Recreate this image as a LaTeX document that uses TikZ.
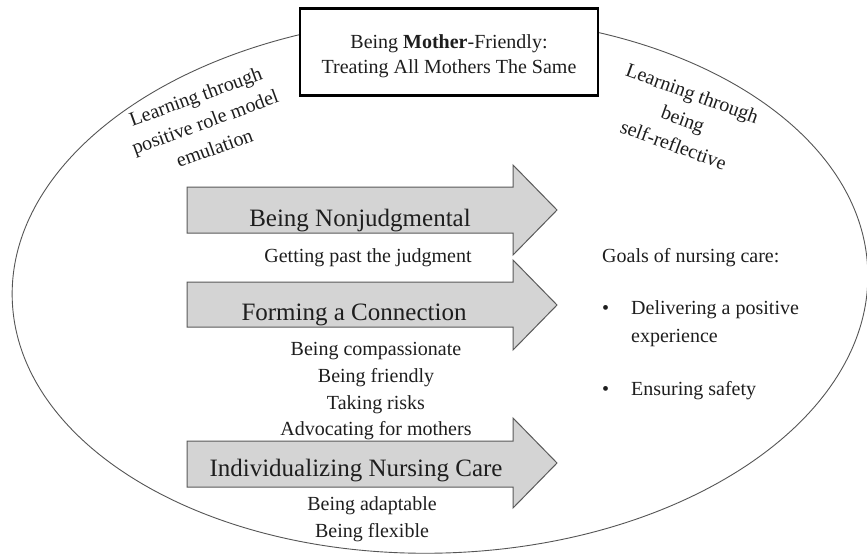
\documentclass[tikz,border=0pt]{standalone}
\usepackage{fontspec}
\setmainfont{Liberation Serif}
\usetikzlibrary{shapes.geometric}
\definecolor{txt}{HTML}{1E1E1E}
\definecolor{arrowfill}{HTML}{D4D4D4}
\definecolor{arrowline}{HTML}{5A5A5A}
\definecolor{ovalline}{HTML}{555555}
\tikzset{
  oval/.style={draw=ovalline, line width=0.9pt, ellipse, minimum width=856pt, minimum height=536pt, inner sep=0pt},
  titlebox/.style={draw=black, line width=2.4pt, fill=white, minimum width=298pt, minimum height=87pt, inner sep=0pt},
  titletext/.style={align=center, inner sep=0pt, text=txt, font=\fontsize{20}{25}\selectfont},
  bigarrow/.style={draw=arrowline, line width=1pt, fill=arrowfill, line join=miter},
  arrowlabel/.style={anchor=base, text=txt, font=\fontsize{25}{30}\selectfont, inner sep=0pt},
  subtext/.style={anchor=base, text=txt, font=\fontsize{20}{24}\selectfont, inner sep=0pt},
  sidetext/.style={align=center, text=txt, font=\fontsize{20}{27.5}\selectfont, inner sep=0pt},
  goaltext/.style={anchor=base west, text=txt, font=\fontsize{20}{24}\selectfont, inner sep=0pt}
}
\begin{document}
\begin{tikzpicture}[x=1pt, y=-1pt]
\useasboundingbox (0,0) rectangle (867,557);
\fill[white] (0,0) rectangle (867,557);
% outer ellipse
\node[oval, rotate=2] (oval) at (440,285) {};
% title box
\node[titlebox] (title) at (449,52) {};
\node[titletext] (titletxt) at (449,56) {Being \textbf{Mother}-Friendly:\\Treating All Mothers The Same};
% side texts
\node[sidetext, rotate=20] (learnleft) at (205,122) {Learning through\\positive role model\\emulation};
\node[sidetext, rotate=-20] (learnright) at (683,119) {Learning through\\being\\self-reflective};
% arrows
\path[bigarrow] (187,187) -- (513,187) -- (513,165) -- (557,210) -- (513,255) -- (513,233) -- (187,233) -- cycle;
\path[bigarrow] (187,282) -- (513,282) -- (513,260) -- (557,305) -- (513,350) -- (513,327) -- (187,327) -- cycle;
\path[bigarrow] (187,441) -- (513,441) -- (513,418) -- (557,463) -- (513,508) -- (513,487) -- (187,487) -- cycle;
% arrow labels
\node[arrowlabel] (nonjud) at (360,226) {Being Nonjudgmental};
\node[arrowlabel] (connect) at (354,320) {Forming a Connection};
\node[arrowlabel] (indiv) at (356,476) {Individualizing Nursing Care};
% sub texts
\node[subtext] (past) at (368,262) {Getting past the judgment};
\node[subtext] (compass) at (376,355) {Being compassionate};
\node[subtext] (friendly) at (376,382) {Being friendly};
\node[subtext] (risks) at (376,409) {Taking risks};
\node[subtext] (advoc) at (376,435) {Advocating for mothers};
\node[subtext] (adapt) at (372,510) {Being adaptable};
\node[subtext] (flex) at (372,537) {Being flexible};
% goals
\node[goaltext] (goals) at (602,262) {Goals of nursing care:};
\node[goaltext] (b1) at (602,314) {\textbullet};
\node[goaltext] (g1) at (631,314) {Delivering a positive};
\node[goaltext] (g1b) at (631,342) {experience};
\node[goaltext] (b2) at (602,395) {\textbullet};
\node[goaltext] (g2) at (631,395) {Ensuring safety};
\end{tikzpicture}
\end{document}
